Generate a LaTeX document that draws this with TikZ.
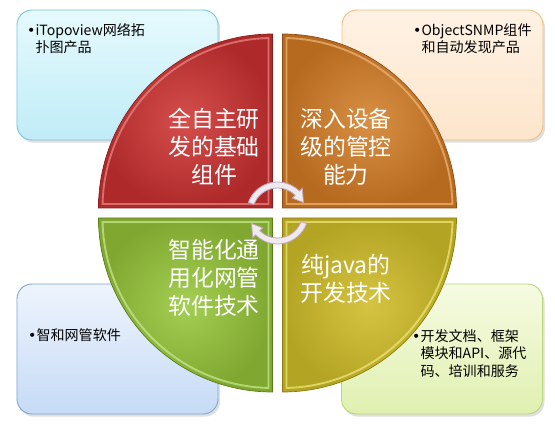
\documentclass[tikz,border=0pt]{standalone}
\usepackage{fontspec}
\setmainfont{Noto Sans CJK SC}
\newfontfamily\dotfont{DejaVu Sans}
\usepackage{tikz}
\usetikzlibrary{shadows}
\usepackage{xcolor}
\definecolor{CyanFillA}{HTML}{E6FAFD}
\definecolor{CyanFillB}{HTML}{C0ECF7}
\definecolor{CyanLine}{HTML}{79C6DE}
\definecolor{PeachFillA}{HTML}{FFF2E4}
\definecolor{PeachFillB}{HTML}{FDE5CC}
\definecolor{PeachLine}{HTML}{F2BE7C}
\definecolor{BlueFillA}{HTML}{EEF4FD}
\definecolor{BlueFillB}{HTML}{C6DBF6}
\definecolor{BlueLine}{HTML}{7FA6D9}
\definecolor{LimeFillA}{HTML}{F6FBE2}
\definecolor{LimeFillB}{HTML}{E0F0B0}
\definecolor{LimeLine}{HTML}{BCD67C}
\definecolor{RedIn}{HTML}{D44E4C}
\definecolor{RedOut}{HTML}{AE2A2A}
\definecolor{RedEdge}{HTML}{8C1C1C}
\definecolor{RedHi}{HTML}{EC8A88}
\definecolor{OrangeIn}{HTML}{D89044}
\definecolor{OrangeOut}{HTML}{B66A20}
\definecolor{OrangeEdge}{HTML}{8C4E14}
\definecolor{OrangeHi}{HTML}{F2B878}
\definecolor{GreenIn}{HTML}{A4CE54}
\definecolor{GreenOut}{HTML}{80A830}
\definecolor{GreenEdge}{HTML}{5C7C1C}
\definecolor{GreenHi}{HTML}{CCEA94}
\definecolor{OliveIn}{HTML}{D4C440}
\definecolor{OliveOut}{HTML}{B4A424}
\definecolor{OliveEdge}{HTML}{8C7C10}
\definecolor{OliveHi}{HTML}{F2EA7C}
\definecolor{TurnFill}{HTML}{EEEAF0}
\definecolor{TurnLine}{HTML}{C4A4B8}
\newcommand{\dotmark}{{\dotfont •}}

\begin{document}
\begin{tikzpicture}[x=0.3mm,y=0.3mm,
    every node/.style={inner sep=0pt},
    infobox/.style={rectangle,rounded corners=4.5mm,line width=0.8pt,
                    minimum width=60.3mm,minimum height=39mm,
                    drop shadow={shadow xshift=0.6mm,shadow yshift=-0.8mm,opacity=0.25}},
    infotext/.style={anchor=base west,align=left,
                     font=\fontsize{12}{15}\selectfont},
    quadtext/.style={align=center,text=white,
                     font=\fontsize{19.5}{24}\selectfont},
    bevel/.style={line width=1.6pt,opacity=0.7},
    turn/.style={fill=TurnFill,draw=TurnLine,line width=0.7pt}]
        \useasboundingbox (0,0) rectangle (555,429);

        % side boxes
        \node[infobox,top color=CyanFillA,bottom color=CyanFillB,draw=CyanLine]
          (itopo) at (117.5,354) {};
        \node[infobox,top color=PeachFillA,bottom color=PeachFillB,draw=PeachLine]
          (snmp) at (442.5,354) {};
        \node[infobox,top color=BlueFillA,bottom color=BlueFillB,draw=BlueLine]
          (zhihe) at (117.5,80) {};
        \node[infobox,top color=LimeFillA,bottom color=LimeFillB,draw=LimeLine]
          (docs) at (442,80) {};

        % four quarters of the disc
        \shadedraw[inner color=RedIn,outer color=RedOut,draw=RedEdge,line width=0.6pt]
          (272.5,221) -- ++(-174,0) arc[start angle=180,end angle=90,radius=174] -- cycle;
        \draw[bevel,RedHi]
          (268.5,225) -- (102.55,225) arc[start angle=178.65,end angle=91.35,radius=170] -- cycle;
        \shadedraw[rotate around={-90:(277.5,216)},
                   inner color=OrangeIn,outer color=OrangeOut,draw=OrangeEdge,line width=0.6pt]
          (272.5,221) -- ++(-174,0) arc[start angle=180,end angle=90,radius=174] -- cycle;
        \draw[rotate around={-90:(277.5,216)},bevel,OrangeHi]
          (268.5,225) -- (102.55,225) arc[start angle=178.65,end angle=91.35,radius=170] -- cycle;
        \shadedraw[rotate around={-180:(277.5,216)},
                   inner color=OliveIn,outer color=OliveOut,draw=OliveEdge,line width=0.6pt]
          (272.5,221) -- ++(-174,0) arc[start angle=180,end angle=90,radius=174] -- cycle;
        \draw[rotate around={-180:(277.5,216)},bevel,OliveHi]
          (268.5,225) -- (102.55,225) arc[start angle=178.65,end angle=91.35,radius=170] -- cycle;
        \shadedraw[rotate around={90:(277.5,216)},
                   inner color=GreenIn,outer color=GreenOut,draw=GreenEdge,line width=0.6pt]
          (272.5,221) -- ++(-174,0) arc[start angle=180,end angle=90,radius=174] -- cycle;
        \draw[rotate around={90:(277.5,216)},bevel,GreenHi]
          (268.5,225) -- (102.55,225) arc[start angle=178.65,end angle=91.35,radius=170] -- cycle;

        % turning arrows in the middle
        \filldraw[turn]
          ([shift={(277.5,216)}]160:31) arc[start angle=160,end angle=45,radius=31]
          -- ([shift={(277.5,216)}]45:35) -- ([shift={(277.5,216)}]22:28)
          -- ([shift={(277.5,216)}]45:21) -- ([shift={(277.5,216)}]45:25)
          arc[start angle=45,end angle=160,radius=25] -- cycle;
        \filldraw[turn,rotate around={180:(277.5,216)}]
          ([shift={(277.5,216)}]160:31) arc[start angle=160,end angle=45,radius=31]
          -- ([shift={(277.5,216)}]45:35) -- ([shift={(277.5,216)}]22:28)
          -- ([shift={(277.5,216)}]45:21) -- ([shift={(277.5,216)}]45:25)
          arc[start angle=45,end angle=160,radius=25] -- cycle;

        % labels
        \node[quadtext] (base) at (214,282) {全自主研\\发的基础\\组件};
        \node[quadtext] (ctrl) at (346,282) {深入设备\\级的管控\\能力};
        \node[quadtext] (smart) at (214,151) {智能化通\\用化网管\\软件技术};
        \node[quadtext] (java) at (346,150.5) {纯java的\\开发技术};

        % base west sits on the last line
        \node[infotext] (itopotxt) at (27,376.1)
          {\dotmark iTopoview网络拓\\\hphantom{\dotmark}扑图产品};
        \node[infotext] (snmptxt) at (413,376.1)
          {\dotmark ObjectSNMP组件\\\hphantom{\dotmark}和自动发现产品};
        \node[infotext] (zhihetxt) at (28,88.7) {\dotmark 智和网管软件};
        \node[infotext] (docstxt) at (412,52.5)
          {\dotmark 开发文档、框架\\\hphantom{\dotmark}模块和API、源代\\\hphantom{\dotmark}码、培训和服务};
      \end{tikzpicture}
\end{document}
